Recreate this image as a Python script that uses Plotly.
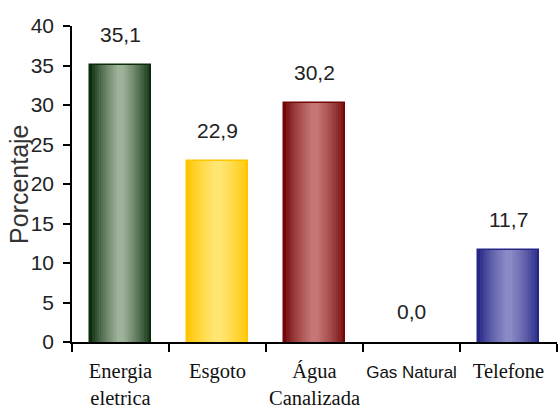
import plotly.graph_objects as go

categories = ["Energia eletrica", "Esgoto", "Água Canalizada", "Gas Natural", "Telefone"]
tick_labels = ["Energia<br>eletrica", "Esgoto", "Água<br>Canalizada", "Gas Natural", "Telefone"]
values = [35.1, 22.9, 30.2, 0.0, 11.7]
value_labels = ["35,1", "22,9", "30,2", "0,0", "11,7"]
y_title = "Porcentaje"

edge_colors = [(10, 44, 10), (255, 198, 0), (115, 8, 8), (0, 0, 0), (38, 38, 135)]
center_colors = [(158, 178, 154), (255, 230, 115), (198, 118, 118), (0, 0, 0), (138, 138, 198)]

serif = "Liberation Serif"
tick_text = []
for lab in tick_labels:
    if lab == "Gas Natural":
        tick_text.append('<span style="font-family:Liberation Sans, Arial, sans-serif;font-size:17px">' + lab + '</span>')
    else:
        tick_text.append(lab)

fig = go.Figure()
n_layers = 14
full_w = 0.62
for k in range(n_layers):
    t = k / (n_layers - 1)
    w = full_w * (1 - 0.88 * t)
    cols = []
    for e, c in zip(edge_colors, center_colors):
        rgb = tuple(int(e[i] + (c[i] - e[i]) * (t ** 0.7)) for i in range(3))
        cols.append("rgb(%d,%d,%d)" % rgb)
    line_w = [(1.5 if (k == 0 and v > 0) else 0) for v in values]
    fig.add_trace(go.Bar(
        x=categories, y=values, width=w,
        marker=dict(color=cols,
                    line=dict(width=line_w,
                              color=["rgb(%d,%d,%d)" % e for e in edge_colors])),
        showlegend=False, hoverinfo="skip",
    ))

for cat, v, lab in zip(categories, values, value_labels):
    fig.add_annotation(x=cat, y=v, text=lab, showarrow=False, yanchor="bottom",
                       yshift=17, font=dict(family="Liberation Sans", size=21, color="#222"))

fig.add_annotation(xref="paper", yref="paper", x=0, y=0.5, xshift=-53,
                   xanchor="center", yanchor="middle", textangle=-90,
                   text=y_title, showarrow=False,
                   font=dict(family="Liberation Sans", size=25, color="#333"))

fig.update_layout(
    barmode="overlay",
    width=558, height=414,
    margin=dict(l=72, r=1, t=26, b=72, autoexpand=False),
    paper_bgcolor="white", plot_bgcolor="white",
    bargap=0,
)
fig.update_yaxes(
    range=[0, 40], dtick=5, showgrid=False, zeroline=False,
    showline=True, linecolor="black", linewidth=1.5,
    ticks="outside", ticklen=7, tickcolor="black", tickwidth=1.5,
    tickfont=dict(family="Liberation Sans", size=21, color="#222"),
    ticklabelstandoff=5,
)
fig.update_xaxes(
    tickmode="array", tickvals=categories, ticktext=tick_text,
    tickson="boundaries", showgrid=False, tickangle=0,
    showline=True, linecolor="black", linewidth=1.5,
    ticks="outside", ticklen=8, tickcolor="black", tickwidth=1.5,
    tickfont=dict(family=serif, size=20.5, color="#111"),
    ticklabelstandoff=10,
)

fig.write_html("out.html")
